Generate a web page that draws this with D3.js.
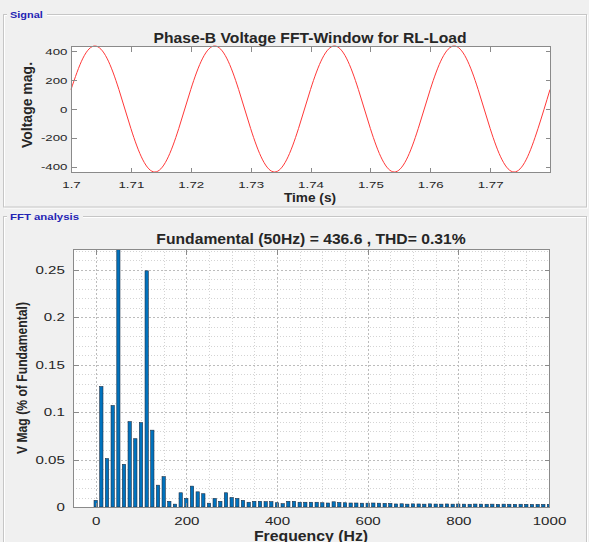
<!DOCTYPE html>
<html>
<head>
<meta charset="utf-8">
<script src="https://cdn.jsdelivr.net/npm/d3@7"></script>
<style>
    body { margin: 0; background: #f0f0f0; }
    svg { display: block; }
</style>
</head>
<body>
<div id="chart"></div>
<script>
// ---- signal panel: phase-B voltage, one sample every 2 ms
var sigTimes = [1.700, 1.702, 1.704, 1.706, 1.708, 1.710, 1.712, 1.714, 1.716, 1.718,
                1.720, 1.722, 1.724, 1.726, 1.728, 1.730, 1.732, 1.734, 1.736, 1.738,
                1.740, 1.742, 1.744, 1.746, 1.748, 1.750, 1.752, 1.754, 1.756, 1.758,
                1.760, 1.762, 1.764, 1.766, 1.768, 1.770, 1.772, 1.774, 1.776, 1.778,
                1.780];
var sigVolts = [135, 353, 437, 353, 135, -135, -353, -437, -353, -135,
                135, 353, 437, 353, 135, -135, -353, -437, -353, -135,
                135, 353, 437, 353, 135, -135, -353, -437, -353, -135,
                135, 353, 437, 353, 135, -135, -353, -437, -353, -135,
                135];
var timeTicks = [1.7, 1.71, 1.72, 1.73, 1.74, 1.75, 1.76, 1.77];
var voltTicks = [-400, -200, 0, 200, 400];

// ---- FFT panel: harmonic magnitude (% of fundamental), 12.5 Hz resolution
var freqs = [0, 12.5, 25, 37.5, 50, 62.5, 75, 87.5, 100, 112.5, 125, 137.5, 150, 162.5, 175, 187.5,
             200, 212.5, 225, 237.5, 250, 262.5, 275, 287.5, 300, 312.5, 325, 337.5, 350, 362.5, 375, 387.5,
             400, 412.5, 425, 437.5, 450, 462.5, 475, 487.5, 500, 512.5, 525, 537.5, 550, 562.5, 575, 587.5,
             600, 612.5, 625, 637.5, 650, 662.5, 675, 687.5, 700, 712.5, 725, 737.5, 750, 762.5, 775, 787.5,
             800, 812.5, 825, 837.5, 850, 862.5, 875, 887.5, 900, 912.5, 925, 937.5, 950, 962.5, 975, 987.5,
             1000];
var mags = [0.007, 0.127, 0.051, 0.107, 100, 0.045, 0.090, 0.072, 0.089, 0.249, 0.081, 0.023, 0.032, 0.006, 0.003, 0.015,
            0.009, 0.022, 0.016, 0.014, 0.004, 0.009, 0.006, 0.015, 0.010, 0.009, 0.007, 0.005, 0.006, 0.006, 0.0056, 0.0056,
            0.0045, 0.0035, 0.006, 0.006, 0.005, 0.005, 0.005, 0.005, 0.0045, 0.0042, 0.0055, 0.0048, 0.0045, 0.0042, 0.0042, 0.004,
            0.004, 0.0042, 0.004, 0.0038, 0.0038, 0.0032, 0.0034, 0.003, 0.0033, 0.0032, 0.003, 0.0033, 0.0031, 0.003, 0.0032, 0.003,
            0.0031, 0.003, 0.0029, 0.0031, 0.003, 0.0029, 0.003, 0.0028, 0.003, 0.0029, 0.0028, 0.0029, 0.0028, 0.0027, 0.0028, 0.0027,
            0.0028];
var freqTicks = [0, 200, 400, 600, 800, 1000];
var magTicks = [0, 0.05, 0.1, 0.15, 0.2, 0.25];

var W = 589, H = 542;
var bg = "#f0f0f0", axisGrey = "#8a8a8a", textCol = "#262626", groupBlue = "#2424b4";

var svg = d3.select("#chart").append("svg")
    .attr("width", W).attr("height", H)
    .style("font-family", "'Liberation Sans', Arial, Helvetica, sans-serif");

svg.append("rect").attr("width", W).attr("height", H).attr("fill", bg);

// etched group box with its caption
function groupBox(y, h, caption, capW, sx) {
    svg.append("rect").attr("x", 4.5).attr("y", y + 1).attr("width", 583).attr("height", h)
        .attr("fill", "none").attr("stroke", "#ffffff");
    svg.append("rect").attr("x", 3.5).attr("y", y).attr("width", 583).attr("height", h)
        .attr("fill", "none").attr("stroke", "#c6c6c6");
    svg.append("rect").attr("x", 7).attr("y", y - 6).attr("width", capW).attr("height", 12).attr("fill", bg);
    svg.append("text")
        .attr("transform", "translate(10," + (y + 3.5) + ") scale(" + sx + ",1)")
        .attr("font-size", "9.5px").attr("font-weight", "bold")
        .attr("fill", groupBlue)
        .text(caption);
}
groupBox(14.5, 192.5, "Signal", 40, 1.15);
groupBox(216.5, 400, "FFT analysis", 76, 1.2);

function label(x, y, txt, size, sx, rot) {
    svg.append("text")
        .attr("transform", "translate(" + x + "," + y + ")" + (rot ? " rotate(-90)" : "") + " scale(" + sx + ",1)")
        .attr("text-anchor", "middle")
        .attr("font-size", size + "px")
        .attr("font-weight", "bold")
        .attr("fill", textCol)
        .text(txt);
}

function numFmt(d) { return String(+d.toFixed(2)); }

// draws the inward ticks on all four sides plus the labels on the left / bottom
function frame(g, x, y, xTicks, yTicks, box, fontSize, xLabY, yLabX) {
    var sx = 1.4;
    g.append("rect")
        .attr("x", box.left + 0.5).attr("y", box.top + 0.5)
        .attr("width", box.right - box.left).attr("height", box.bottom - box.top)
        .attr("fill", "none").attr("stroke", axisGrey).attr("shape-rendering", "crispEdges");

    var bottomAx = g.append("g").attr("transform", "translate(0," + (box.bottom + 0.5) + ")")
        .call(d3.axisBottom(x).tickValues(xTicks).tickSize(-5).tickFormat(numFmt));
    bottomAx.selectAll("text")
        .attr("y", xLabY).attr("dy", 0)
        .attr("transform", "scale(" + sx + ",1)");

    var leftAx = g.append("g").attr("transform", "translate(" + (box.left + 0.5) + ",0)")
        .call(d3.axisLeft(y).tickValues(yTicks).tickSize(-5).tickFormat(numFmt));
    leftAx.selectAll("text")
        .attr("x", -yLabX / sx)
        .attr("transform", "scale(" + sx + ",1)");

    g.append("g").attr("transform", "translate(0," + (box.top + 0.5) + ")")
        .call(d3.axisTop(x).tickValues(xTicks).tickSize(-5).tickFormat(""));
    g.append("g").attr("transform", "translate(" + (box.right + 0.5) + ",0)")
        .call(d3.axisRight(y).tickValues(yTicks).tickSize(-5).tickFormat(""));

    g.selectAll(".domain").remove();
    g.selectAll(".tick line").attr("stroke", axisGrey).attr("shape-rendering", "crispEdges");
    g.selectAll(".tick text")
        .attr("font-family", "'Liberation Sans', Arial, sans-serif")
        .attr("font-size", fontSize + "px")
        .attr("fill", textCol);
}

// ---------------- signal plot
var sig = {left: 71, right: 550, top: 46, bottom: 172};
var xT = d3.scaleLinear().domain([1.7, 1.78]).range([sig.left, sig.right]);
var yT = d3.scaleLinear().domain([-437, 437]).range([sig.bottom, sig.top]);

var sigG = svg.append("g");
sigG.append("rect")
    .attr("x", sig.left).attr("y", sig.top)
    .attr("width", sig.right - sig.left).attr("height", sig.bottom - sig.top)
    .attr("fill", "white");

var line = d3.line()
    .x(function(d, i) { return xT(sigTimes[i]); })
    .y(function(d) { return yT(d); })
    .curve(d3.curveNatural);

sigG.append("path")
    .datum(sigVolts)
    .attr("d", line)
    .attr("fill", "none")
    .attr("stroke", "#ff3838")
    .attr("stroke-width", 1);

frame(sigG, xT, yT, timeTicks, voltTicks, sig, 9.5, 15.5, 4);

label(310, 42.5, "Phase-B Voltage FFT-Window for RL-Load", 14, 1.12, false);
label(310, 201.5, "Time (s)", 13, 1.05, false);
label(32, 105, "Voltage mag.", 14, 1, true);

// ---------------- FFT bar plot
var fft = {left: 73, right: 549, top: 249, bottom: 507};
var xF = d3.scaleLinear().domain([-50, 1000]).range([fft.left, fft.right]);
var yF = d3.scaleLinear().domain([0, 0.272]).range([fft.bottom, fft.top]);

var fftG = svg.append("g");
fftG.append("rect")
    .attr("x", fft.left).attr("y", fft.top)
    .attr("width", fft.right - fft.left).attr("height", fft.bottom - fft.top)
    .attr("fill", "white");

svg.append("clipPath").attr("id", "fftClip")
    .append("rect")
    .attr("x", fft.left).attr("y", fft.top)
    .attr("width", fft.right - fft.left).attr("height", fft.bottom - fft.top);

// grid: minor every 50 Hz / 0.01, major on the tick values
var gridG = fftG.append("g");
var minorX = xF.ticks(21).filter(function(d) { return d % 200 !== 0 && d > -50 && d < 1000; });
var majorX = freqTicks.filter(function(d) { return d < 1000; });
var minorY = yF.ticks(27).filter(function(d) { return Math.abs(d / 0.05 - Math.round(d / 0.05)) > 1e-6; });
var majorY = magTicks.filter(function(d) { return d > 0; });

gridG.selectAll("line.mx").data(minorX).enter().append("line")
    .attr("x1", function(d) { return Math.round(xF(d)) + 0.5; })
    .attr("x2", function(d) { return Math.round(xF(d)) + 0.5; })
    .attr("y1", fft.top).attr("y2", fft.bottom)
    .attr("stroke", "#d4d4d4").attr("stroke-dasharray", "1,2");
gridG.selectAll("line.my").data(minorY).enter().append("line")
    .attr("y1", function(d) { return Math.round(yF(d)) + 0.5; })
    .attr("y2", function(d) { return Math.round(yF(d)) + 0.5; })
    .attr("x1", fft.left).attr("x2", fft.right)
    .attr("stroke", "#d4d4d4").attr("stroke-dasharray", "1,2");
gridG.selectAll("line.Mx").data(majorX).enter().append("line")
    .attr("x1", function(d) { return Math.round(xF(d)) + 0.5; })
    .attr("x2", function(d) { return Math.round(xF(d)) + 0.5; })
    .attr("y1", fft.top).attr("y2", fft.bottom)
    .attr("stroke", "#bcbcbc").attr("stroke-dasharray", "2,2");
gridG.selectAll("line.My").data(majorY).enter().append("line")
    .attr("y1", function(d) { return Math.round(yF(d)) + 0.5; })
    .attr("y2", function(d) { return Math.round(yF(d)) + 0.5; })
    .attr("x1", fft.left).attr("x2", fft.right)
    .attr("stroke", "#bcbcbc").attr("stroke-dasharray", "2,2");

var barW = (xF(12.5) - xF(0)) * 0.58;
fftG.append("g")
    .attr("clip-path", "url(#fftClip)")
    .selectAll("rect").data(freqs).enter().append("rect")
    .attr("x", function(d) { return xF(d) - barW / 2; })
    .attr("y", function(d, i) { return yF(mags[i]); })
    .attr("width", barW)
    .attr("height", function(d, i) { return yF(0) - yF(mags[i]); })
    .attr("fill", "#0072bd")
    .attr("stroke", "#1d2f45")
    .attr("stroke-width", 0.6);

frame(fftG, xF, yF, freqTicks, magTicks, fft, 10.8, 18, 8.7);

label(311, 244, "Fundamental (50Hz) = 436.6 , THD= 0.31%", 14, 1.12, false);
label(311, 540.5, "Frequency (Hz)", 14, 1.13, false);
label(27, 378, "V Mag (% of Fundamental)", 14, 0.87, true);
</script>
</body>
</html>
